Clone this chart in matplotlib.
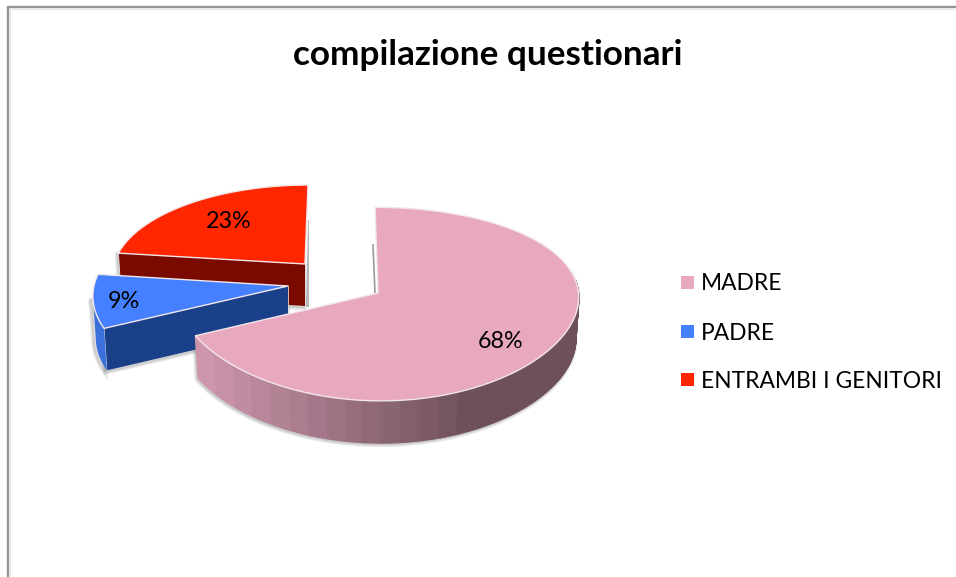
import numpy as np
import matplotlib
matplotlib.use('Agg')
import matplotlib.pyplot as plt
from matplotlib.patches import Rectangle

plt.rcParams['font.family'] = ['Lato', 'DejaVu Sans']

title = 'compilazione questionari'
categories = ['MADRE', 'PADRE', 'ENTRAMBI I GENITORI']
values = [68, 9, 23]

top_colors = ['#e8a8c0', '#4480ff', '#ff2600']
front_colors = ['#c896aa', '#1a408a', '#7a0a00']

# apex x, apex y, radius, k, perspective in x, shear in x
wedge_geometry = [
    (378, 293, 200.5, 95.5, 0.03, 3),
    (288, 286, 194, 94.7, 0.107, 0),
    (305, 264, 191, 88, 0.107, -3.3),
]
depth = 42
shrink = 0.985


def project(geom, theta):
    ax0, ay0, r, k, px, s = geom
    u = np.sin(theta)
    v = -np.cos(theta)
    x = ax0 + (r * u + s * v) / (1 - px * v)
    y = ay0 + k * v / (1 - 0.1146 * v)
    return x, y


def lower(geom, x, y):
    return geom[0] + (x - geom[0]) * shrink, y + depth


fig = plt.figure(figsize=(9.56, 5.77), dpi=100)
ax = fig.add_axes([0, 0, 1, 1])
ax.set_xlim(0, 956)
ax.set_ylim(577, 0)
ax.axis('off')

# frame, no right or bottom side in the picture
ax.plot([8, 8, 956], [577, 7, 7], color='#949494', lw=1.7, solid_joinstyle='miter')
ax.plot([10, 10, 956], [577, 9, 9], color='#e6e6e6', lw=0.8, solid_joinstyle='miter')

ends = np.cumsum(values) / np.sum(values) * 2 * np.pi
starts = np.r_[0, ends[:-1]]


def shadow(xs, ys):
    for lw in (4, 2.5, 1.2):
        ax.fill(xs, ys, facecolor='none', edgecolor='#555555', lw=lw, alpha=0.11, zorder=1)


def front_face(geom, theta, color):
    x, y = project(geom, theta)
    ax0, ay0 = geom[0], geom[1]
    bx, by = lower(geom, x, y)
    xs = [x, ax0, ax0, bx]
    ys = [y, ay0, ay0 + depth, by]
    shadow(np.array(xs) - 1, np.array(ys) + 1.5)
    ax.fill(xs, ys, color=color, lw=0, zorder=2)
    ax.plot([x, bx], [y, by], color='#dddddd', lw=0.6, zorder=2)
    ax.plot([ax0, ax0], [ay0, ay0 + depth], color='#dddddd', lw=0.6, zorder=2)


def top_face(geom, a, b, color, z):
    th = np.linspace(a, b, 160)
    x, y = project(geom, th)
    xs = np.r_[geom[0], x]
    ys = np.r_[geom[1], y]
    ax.fill(xs, ys, facecolor=color, edgecolor='#f2e6ea', lw=1.0, zorder=z,
            joinstyle='round')


# ENTRAMBI I GENITORI, furthest back
g = wedge_geometry[2]
x_end, y_end = project(g, ends[2])
ax.fill([g[0] + 3, g[0] + 4, g[0] + 4, g[0] + 1],
        [y_end + 35, y_end + 35, g[1] + depth + 1, g[1] + depth + 1],
        color='#999999', lw=0, alpha=0.7, zorder=1)
front_face(g, starts[2], front_colors[2])
top_face(g, starts[2], ends[2], top_colors[2], 3)

# PADRE
g = wedge_geometry[1]
th = np.linspace(starts[1], np.deg2rad(263), 30)
x, y = project(g, th)
bx, by = lower(g, x, y)
shadow(np.r_[x, bx[::-1]] - 2, np.r_[y, by[::-1]] + 1)
ax.fill(np.r_[x, bx[::-1]], np.r_[y, by[::-1]], color='#3c70dc', lw=0, zorder=4)
front_face(g, starts[1], front_colors[1])
top_face(g, starts[1], ends[1], top_colors[1], 5)

# MADRE, side band shaded from left to right
g = wedge_geometry[0]
th = np.linspace(np.deg2rad(82), ends[0], 150)
x, y = project(g, th)
bx, by = lower(g, x, y)
shadow(np.r_[x, bx[::-1]] - 1, np.r_[y, by[::-1]] + 1.5)
left_rgb = np.array([205, 150, 172]) / 255
dark_rgb = np.array([110, 80, 92]) / 255
for i in range(len(th) - 1):
    t = np.clip((x[i] - 195) / (458 - 195), 0, 1)
    t = np.floor(t * 14) / 14
    c = left_rgb + (dark_rgb - left_rgb) * t
    ax.fill([x[i], x[i + 1], bx[i + 1], bx[i]], [y[i], y[i + 1], by[i + 1], by[i]],
            facecolor=c, edgecolor=c, lw=1.2, zorder=6)
# small dark sliver behind the cut
ax.plot([g[0] - 5, g[0] - 3], [245, g[1]], color='#6f6f6f', lw=1.2, alpha=0.7, zorder=5)
top_face(g, starts[0], ends[0], top_colors[0], 7)

ax.text(488, 55, title, ha='center', va='center', fontsize=25.3, fontweight='bold',
        color='black', zorder=10)

label_pos = [(501, 341), (124, 301), (229, 222)]
for value, (lx, ly) in zip(values, label_pos):
    ax.text(lx, ly, f'{value}%', ha='center', va='center', fontsize=16.8, color='black', zorder=10)

legend_y = [284, 333, 381]
for name, color, ly in zip(categories, top_colors, legend_y):
    ax.add_patch(Rectangle((681, ly - 8), 13, 13, facecolor=color, edgecolor='none', zorder=10))
    ax.text(701, ly, name, ha='left', va='center', fontsize=16.35, color='black', zorder=10)

fig.savefig('out.png', dpi=100)
